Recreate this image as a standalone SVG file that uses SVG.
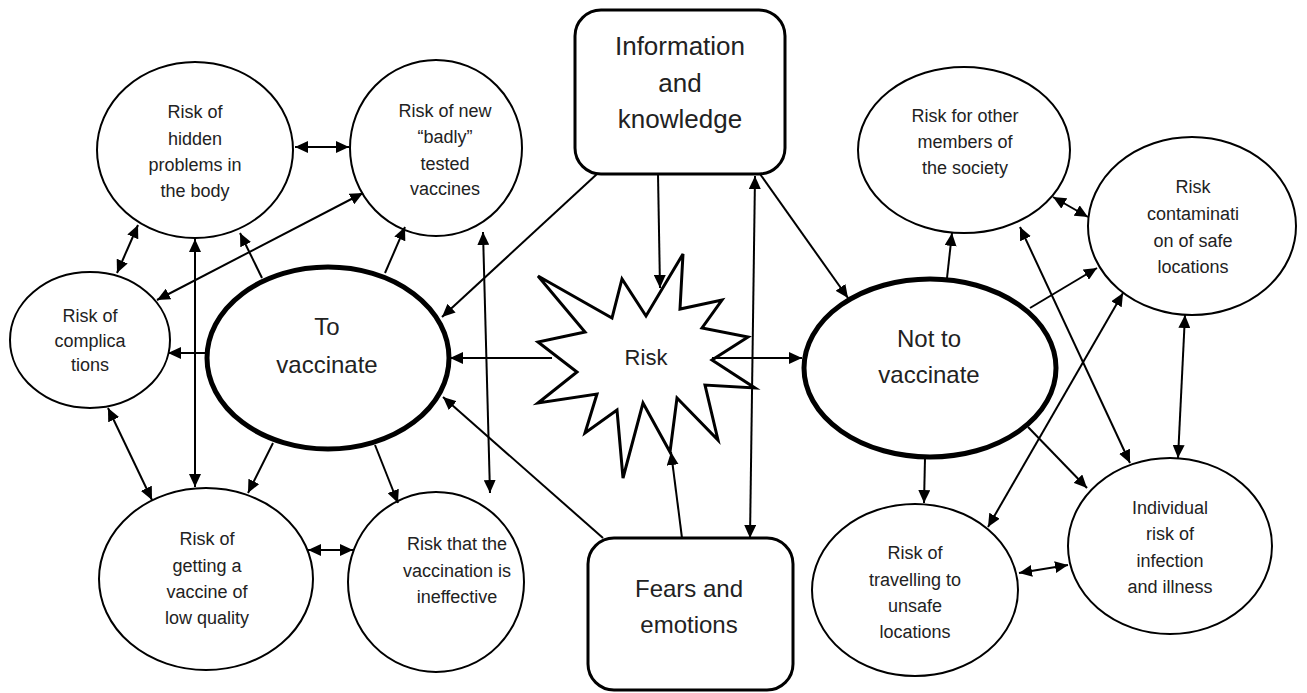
<svg xmlns="http://www.w3.org/2000/svg" width="1307" height="693" viewBox="0 0 1307 693">
<style>
.bg{fill:#fff}
.ell{fill:#fff;stroke:#000;stroke-width:2}
.thick{fill:#fff;stroke:#000;stroke-width:5}
.box{fill:#fff;stroke:#000;stroke-width:3}
.star{fill:#fff;stroke:#000;stroke-width:3;stroke-linejoin:miter}
text{font-family:"Liberation Sans",Arial,sans-serif;fill:#222;text-anchor:middle}
.s{font-size:18px}
.m{font-size:24px}
.b{font-size:26px}
.c line{stroke:#000;stroke-width:2}
.e{marker-end:url(#ah)}
.d{marker-end:url(#ah);marker-start:url(#ah)}
</style>
<defs>
<marker id="ah" viewBox="0 0 13 12" refX="13" refY="6" markerWidth="13" markerHeight="12" markerUnits="userSpaceOnUse" orient="auto-start-reverse">
<path d="M0,0 L13,6 L0,12 z" fill="#000"/>
</marker>
</defs>
<rect class="bg" x="0" y="0" width="1307" height="693"/>

<g id="info">
<rect class="box" x="575" y="10" width="210" height="164" rx="26"/>
<text class="b" x="680" y="55">Information</text>
<text class="b" x="680" y="92">and</text>
<text class="b" x="680" y="128">knowledge</text>
</g>

<g id="fears">
<rect class="box" x="588" y="538" width="205" height="152" rx="26"/>
<text class="m" x="689" y="597">Fears and</text>
<text class="m" x="689" y="633">emotions</text>
</g>

<g id="risk">
<polygon class="star" points="538,276 612,318 622,279 646,316 683,254 680,309 722,300 702,328 748,337 712,360 755,388 705,385 718,440 677,398 670,452 643,403 623,478 617,410 585,433 597,394 538,403 577,372 538,342 585,332"/>
<text style="font-size:22px" x="646" y="365">Risk</text>
</g>

<g id="to-vaccinate">
<ellipse class="thick" cx="328" cy="358" rx="121" ry="91"/>
<text class="m" x="327" y="335">To</text>
<text class="m" x="327" y="373">vaccinate</text>
</g>

<g id="not-to-vaccinate">
<ellipse class="thick" cx="930" cy="368" rx="126" ry="89"/>
<text class="m" x="929" y="347">Not to</text>
<text class="m" x="929" y="383">vaccinate</text>
</g>

<g id="hidden">
<ellipse class="ell" cx="195" cy="150" rx="98" ry="88"/>
<text class="s" x="195" y="118">Risk of</text>
<text class="s" x="195" y="145">hidden</text>
<text class="s" x="195" y="171">problems in</text>
<text class="s" x="195" y="197">the body</text>
</g>

<g id="new-vaccines">
<ellipse class="ell" cx="436" cy="148" rx="86" ry="88"/>
<text class="s" x="445" y="117">Risk of new</text>
<text class="s" x="445" y="143">“badly”</text>
<text class="s" x="445" y="170">tested</text>
<text class="s" x="445" y="195">vaccines</text>
</g>

<g id="complications">
<ellipse class="ell" cx="90" cy="340" rx="80" ry="68"/>
<text class="s" x="90" y="322">Risk of</text>
<text class="s" x="90" y="347">complica</text>
<text class="s" x="90" y="371">tions</text>
</g>

<g id="low-quality">
<ellipse class="ell" cx="206" cy="579" rx="107" ry="91"/>
<text class="s" x="207" y="545">Risk of</text>
<text class="s" x="207" y="572">getting a</text>
<text class="s" x="207" y="598">vaccine of</text>
<text class="s" x="207" y="624">low quality</text>
</g>

<g id="ineffective">
<ellipse class="ell" cx="436" cy="582" rx="88" ry="90"/>
<text class="s" x="457" y="550">Risk that the</text>
<text class="s" x="457" y="577">vaccination is</text>
<text class="s" x="457" y="603">ineffective</text>
</g>

<g id="society">
<ellipse class="ell" cx="964" cy="150" rx="106" ry="83"/>
<text class="s" x="965" y="122">Risk for other</text>
<text class="s" x="965" y="148">members of</text>
<text class="s" x="965" y="174">the society</text>
</g>

<g id="contamination">
<ellipse class="ell" cx="1192" cy="226" rx="104" ry="89"/>
<text class="s" x="1193" y="193">Risk</text>
<text class="s" x="1193" y="220">contaminati</text>
<text class="s" x="1193" y="247">on of safe</text>
<text class="s" x="1193" y="273">locations</text>
</g>

<g id="travelling">
<ellipse class="ell" cx="915" cy="590" rx="103" ry="86"/>
<text class="s" x="915" y="559">Risk of</text>
<text class="s" x="915" y="586">travelling to</text>
<text class="s" x="915" y="612">unsafe</text>
<text class="s" x="915" y="638">locations</text>
</g>

<g id="individual">
<ellipse class="ell" cx="1170" cy="546" rx="102" ry="88"/>
<text class="s" x="1170" y="514">Individual</text>
<text class="s" x="1170" y="540">risk of</text>
<text class="s" x="1170" y="567">infection</text>
<text class="s" x="1170" y="593">and illness</text>
</g>

<g id="connectors" class="c">
<line class="e" x1="597" y1="174" x2="442" y2="317"/>
<line class="e" x1="658" y1="174" x2="660" y2="288"/>
<line class="e" x1="760" y1="174" x2="848" y2="298"/>
<line class="d" x1="755" y1="176" x2="750" y2="538"/>
<line class="e" x1="682" y1="538" x2="671" y2="452"/>
<line class="e" x1="603" y1="538" x2="443" y2="397"/>
<line class="e" x1="552" y1="358" x2="450" y2="358"/>
<line class="e" x1="712" y1="358" x2="802" y2="358"/>
<line class="d" x1="295" y1="147" x2="349" y2="147"/>
<line class="d" x1="138" y1="225" x2="117" y2="273"/>
<line class="d" x1="195" y1="239" x2="195" y2="487"/>
<line class="e" x1="262" y1="278" x2="240" y2="233"/>
<line class="d" x1="363" y1="193" x2="157" y2="300"/>
<line class="e" x1="385" y1="273" x2="405" y2="227"/>
<line class="d" x1="483" y1="232" x2="490" y2="493"/>
<line class="e" x1="207" y1="353" x2="168" y2="353"/>
<line class="d" x1="108" y1="408" x2="152" y2="500"/>
<line class="e" x1="273" y1="443" x2="248" y2="493"/>
<line class="e" x1="375" y1="445" x2="398" y2="503"/>
<line class="d" x1="308" y1="550" x2="353" y2="550"/>
<line class="e" x1="947" y1="278" x2="952" y2="233"/>
<line class="d" x1="1053" y1="197" x2="1088" y2="217"/>
<line class="d" x1="1020" y1="227" x2="1130" y2="463"/>
<line class="e" x1="1030" y1="308" x2="1097" y2="268"/>
<line class="d" x1="1123" y1="293" x2="988" y2="527"/>
<line class="d" x1="1185" y1="315" x2="1178" y2="458"/>
<line class="e" x1="925" y1="458" x2="924" y2="503"/>
<line class="e" x1="1028" y1="427" x2="1087" y2="488"/>
<line class="d" x1="1019" y1="573" x2="1068" y2="565"/>
</g>
</svg>
